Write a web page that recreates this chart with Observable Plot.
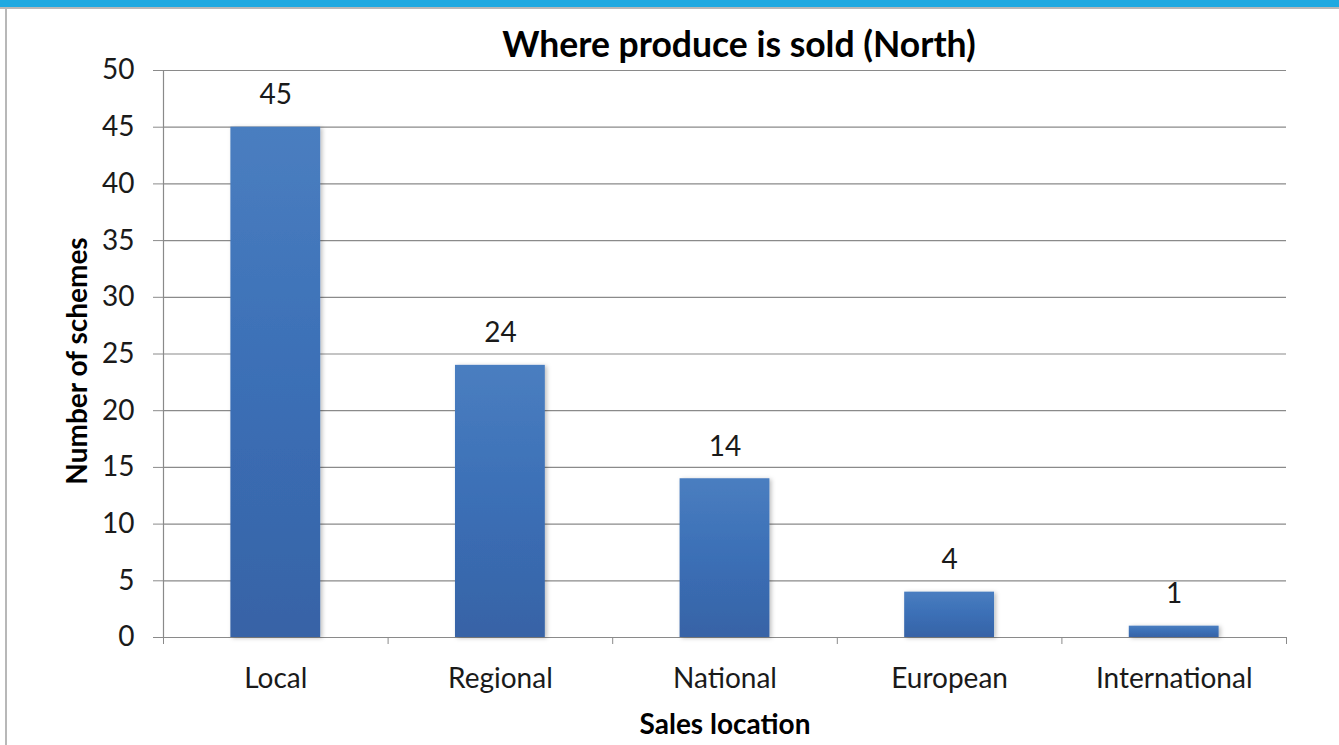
<!DOCTYPE html>
<html>
<head>
<meta charset="utf-8">
<script src="https://cdn.jsdelivr.net/npm/d3@7"></script>
<script src="https://cdn.jsdelivr.net/npm/@observablehq/plot@0.6"></script>
<style>
  html, body { margin: 0; padding: 0; background: #fff; }
  #wrap { position: relative; width: 1339px; height: 745px; overflow: hidden; }
  #band { position: absolute; left: 0; top: 0; width: 1339px; height: 7px; background: #1fa9e1; border-bottom: 2px solid #b8b8b8; }
  #lborder { position: absolute; left: 5px; top: 9px; width: 2px; height: 736px; background: #b8b8b8; }
  #chart { position: absolute; left: 0; top: 0; }
</style>
</head>
<body>
<div id="wrap">
  <div id="chart"></div>
  <div id="band"></div>
  <div id="lborder"></div>
</div>
<script>
const categories = ["Local", "Regional", "National", "European", "International"];
const values = [45, 24, 14, 4, 1];
const yTicks = [0, 5, 10, 15, 20, 25, 30, 35, 40, 45, 50];
const title = "Where produce is sold (North)";
const xLabel = "Sales location";
const yLabel = "Number of schemes";

const data = categories.map((c, i) => ({category: c, index: i, value: values[i]}));
const font = "Lato, 'Open Sans', sans-serif";

const chart = Plot.plot({
  width: 1339,
  height: 745,
  marginLeft: 163,
  marginRight: 53,
  marginTop: 70,
  marginBottom: 108,
  style: {fontFamily: font, background: "transparent", overflow: "visible"},
  x: {type: "linear", domain: [0, categories.length]},
  y: {domain: [0, 50]},
  marks: [
    Plot.ruleY(yTicks, {stroke: "#8a8a8a", strokeWidth: 1.2}),
    Plot.rectY(data, {x1: d => d.index + 0.3, x2: d => d.index + 0.7, y1: 0, y2: "value",
      fill: "url(#barGrad)"}),
    Plot.text(data, {x: d => d.index + 0.5, y: "value", text: d => String(d.value), dy: -32,
      fontSize: 28, fill: "#1a1a1a"}),
    Plot.ruleX([0], {stroke: "#8a8a8a", strokeWidth: 1.2}),
    Plot.axisY({ticks: yTicks, tickSize: 10, tickPadding: 19, fontSize: 28, stroke: "#8a8a8a",
      color: "#1a1a1a", label: null, tickFormat: d => String(d)}),
    Plot.axisX({ticks: d3.range(0, categories.length + 1), tickSize: 7, tickFormat: () => "",
      stroke: "#8a8a8a", label: null}),
    Plot.axisX({ticks: categories.map((c, i) => i + 0.5), tickSize: 0, tickPadding: 31,
      tickFormat: v => categories[Math.floor(v)], fontSize: 28, fill: "#1a1a1a", label: null}),
    Plot.text([title], {frameAnchor: "top", lineAnchor: "middle", dx: 14, dy: -25, fontSize: 35.5, fontWeight: "bold", fill: "#000"}),
    Plot.text([xLabel], {frameAnchor: "bottom", dy: 96, fontSize: 28, fontWeight: "bold", fill: "#000"}),
    Plot.text([yLabel], {frameAnchor: "left", textAnchor: "middle", dx: -85, dy: 7, rotate: -90, fontSize: 28, fontWeight: "bold", fill: "#000"})
  ]
});

const svg = d3.select(chart);
const defs = svg.insert("defs", ":first-child");
const g = defs.append("linearGradient").attr("id", "barGrad").attr("x1", 0).attr("y1", 0).attr("x2", 0).attr("y2", 1);
g.append("stop").attr("offset", "0%").attr("stop-color", "#4a7ec0");
g.append("stop").attr("offset", "50%").attr("stop-color", "#3b6fb6");
g.append("stop").attr("offset", "100%").attr("stop-color", "#3763a6");
const f = defs.append("filter").attr("id", "shadow").attr("x", "-10%").attr("y", "-10%").attr("width", "130%").attr("height", "130%");
f.append("feDropShadow").attr("dx", 2).attr("dy", 1).attr("stdDeviation", 2).attr("flood-color", "#000").attr("flood-opacity", 0.25);
svg.selectAll("g[aria-label='rect']").attr("filter", "url(#shadow)");

document.getElementById("chart").appendChild(chart);
</script>
</body>
</html>
